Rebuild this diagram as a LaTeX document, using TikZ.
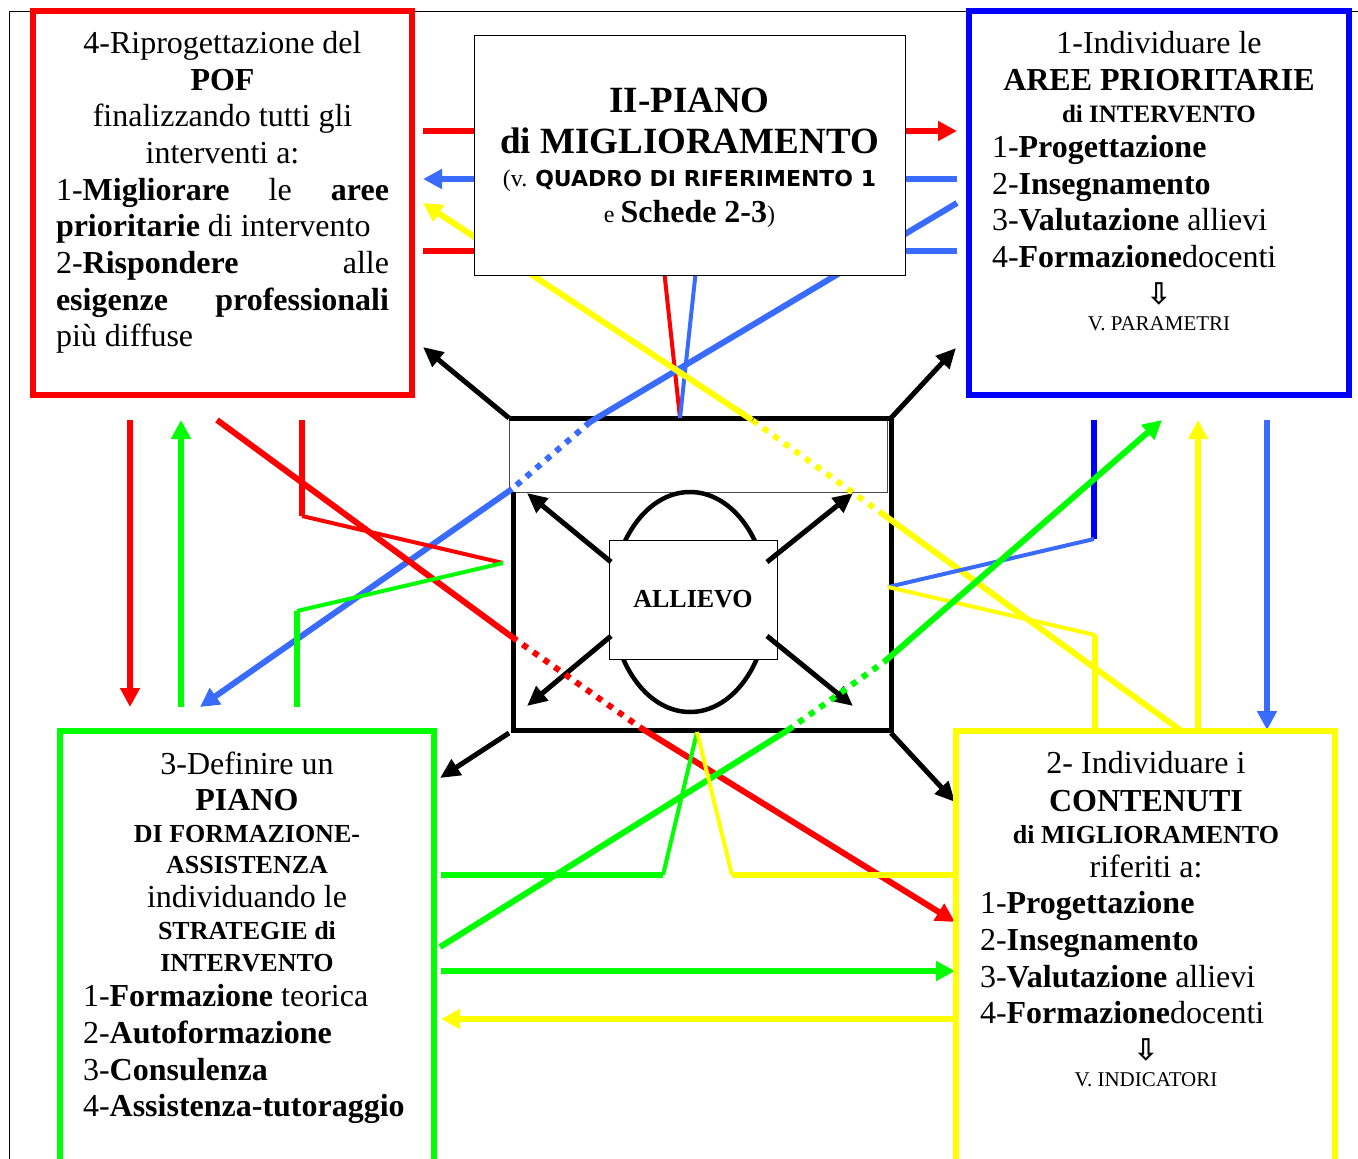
\documentclass[tikz,border=0pt]{standalone}
\usepackage{fontspec}
\setmainfont{Liberation Serif}
\newfontfamily\dvsans{DejaVu Sans}
\usetikzlibrary{arrows.meta}
\definecolor{cred}{RGB}{255,0,0}
\definecolor{cgrn}{RGB}{0,255,0}
\definecolor{cyel}{RGB}{255,255,0}
\definecolor{cblu}{RGB}{0,0,255}
\definecolor{clbl}{RGB}{58,107,255}
\newcommand\szA{\fontsize{32}{36.7}\selectfont\lineskiplimit=-100pt\relax}
\newcommand\szB{\fontsize{26}{36.7}\selectfont}
\newcommand\szC{\fontsize{21}{36.7}\selectfont}
\newcommand\szD{\fontsize{24}{36.7}\selectfont}
\newcommand\dnarr{{\dvsans\bfseries\fontsize{30}{36.7}\selectfont ⇩}}
\begin{document}
\begin{tikzpicture}[x=1pt,y=-1pt,
  box/.style={draw, line width=6pt, inner sep=0pt},
  txt/.style={inner sep=0pt, anchor=base, align=flush center, font=\szA},
  cline/.style={line width=6pt},
  tline/.style={line width=4pt},
  dline/.style={line width=6pt, dash pattern=on 6pt off 7pt},
  ctip/.style={-{Triangle[length=19pt,width=19pt]}},
  kline/.style={line width=5pt, -{Triangle[length=20pt,width=18pt]}},
]
\useasboundingbox (0,0) rectangle (1358,1159);
% thin page frame
\draw[line width=1pt] (9,1159) -- (9,11) -- (1358,11);

% ---------- central ALLIEVO frame ----------
\node[draw=black!70, line width=0.8pt, fill=white, minimum width=378pt, minimum height=74pt, inner sep=0pt] (band) at (698,455) {};
\draw[line width=5pt, line join=miter] (509,418) -- (891,418) -- (891,730) -- (513,730) -- (513,492);
\draw[line width=4.5pt] (690,602) ellipse [x radius=78pt, y radius=110pt];
\node[draw, line width=0.8pt, fill=white, minimum width=168pt, minimum height=119pt, inner sep=0pt, font=\szB\bfseries] (allievo) at (693,599.5) {ALLIEVO};

\coordinate (aNW) at (611,562); \coordinate (aNE) at (767,562);
\coordinate (aSW) at (611,636); \coordinate (aSE) at (767,636);
\coordinate (iNW) at (527,493); \coordinate (iNE) at (853,493);
\coordinate (iSW) at (527,706); \coordinate (iSE) at (853,706);
\draw[kline] (aNW) -- (iNW);
\draw[kline] (aNE) -- (iNE);
\draw[kline] (aSW) -- (iSW);
\draw[kline] (aSE) -- (iSE);

\coordinate (fTL) at (509,418); \coordinate (fTR) at (891,418);
\coordinate (fBL) at (509,733); \coordinate (fBR) at (891,733);
\coordinate (oTL) at (423,347); \coordinate (oTR) at (956,348);
\coordinate (oBL) at (440,778); \coordinate (oBR) at (955,802);
\draw[kline] (fTL) -- (oTL);
\draw[kline] (fTR) -- (oTR);
\draw[kline] (fBL) -- (oBL);
\draw[kline] (fBR) -- (oBR);

% ---------- coloured connectors ----------
% top band
\coordinate (rA) at (423,131); \coordinate (bA) at (957,131);
\draw[cline, cred, ctip] (rA) -- (bA);
\coordinate (bB) at (957,179); \coordinate (rB) at (423,179);
\draw[cline, clbl, ctip] (bB) -- (rB);
\coordinate (rC) at (423,251); \coordinate (rC1) at (662,251); \coordinate (fT) at (680,418);
\draw[cline, cred] (rC) -- (rC1);
\draw[tline, cred] (rC1) -- (fT);
\coordinate (bC) at (957,251); \coordinate (bC1) at (698,251);
\draw[cline, clbl] (bC) -- (bC1);
\draw[tline, clbl] (bC1) -- (fT);
% blue diagonal to green box
\coordinate (bD) at (957,203); \coordinate (bD1) at (590,422);
\coordinate (bD2) at (512,489); \coordinate (gA) at (200,707);
\draw[cline, clbl] (bD) -- (bD1);
\draw[dline, clbl] (bD1) -- (bD2);
\draw[cline, clbl, ctip] (bD2) -- (gA);
% yellow diagonal to red box
\coordinate (yA) at (1180,730); \coordinate (yA1) at (884,515);
\coordinate (yA2) at (752,420); \coordinate (rD) at (423,203);
\draw[cline, cyel] (yA) -- (yA1);
\draw[dline, cyel] (yA1) -- (yA2);
\draw[cline, cyel, ctip] (yA2) -- (rD);
% left side
\coordinate (rE) at (130,420); \coordinate (gB) at (130,707);
\draw[cline, cred, ctip] (rE) -- (gB);
\coordinate (gC) at (181,707); \coordinate (rF) at (181,420);
\draw[cline, cgrn, ctip] (gC) -- (rF);
\coordinate (rG) at (217,420); \coordinate (rG1) at (512,637);
\coordinate (rG2) at (641,728); \coordinate (yB) at (955,922);
\draw[cline, cred] (rG) -- (rG1);
\draw[dline, cred] (rG1) -- (rG2);
\draw[cline, cred, ctip] (rG2) -- (yB);
\coordinate (rH) at (302,420); \coordinate (rH1) at (302,516); \coordinate (fL) at (503,563);
\draw[cline, cred] (rH) -- (rH1);
\draw[tline, cred] (rH1) -- (fL);
\coordinate (gD) at (297,707); \coordinate (gD1) at (297,611);
\draw[cline, cgrn] (gD) -- (gD1);
\draw[tline, cgrn] (gD1) -- (fL);
% right side
\coordinate (bE) at (1094,420); \coordinate (bE1) at (1094,539); \coordinate (fR) at (888,587);
\draw[cline, cblu] (bE) -- (bE1);
\draw[tline, clbl] (bE1) -- (fR);
\coordinate (yC) at (1095,730); \coordinate (yC1) at (1095,635);
\draw[cline, cyel] (yC) -- (yC1);
\draw[tline, cyel] (yC1) -- (fR);
\coordinate (gE) at (440,947); \coordinate (gE1) at (788,730);
\coordinate (gE2) at (884,662); \coordinate (bF) at (1162,420);
\draw[cline, cgrn] (gE) -- (gE1);
\draw[dline, cgrn] (gE1) -- (gE2);
\draw[cline, cgrn, ctip] (gE2) -- (bF);
\coordinate (yD) at (1198,730); \coordinate (bG) at (1198,420);
\draw[cline, cyel, ctip] (yD) -- (bG);
\coordinate (bH) at (1267,420); \coordinate (yE) at (1267,730);
\draw[cline, clbl, ctip] (bH) -- (yE);
% bottom
\coordinate (gF) at (441,875); \coordinate (gF1) at (663,875); \coordinate (fB) at (697,732);
\draw[cline, cgrn] (gF) -- (gF1);
\draw[tline, cgrn] (gF1) -- (fB);
\coordinate (yF) at (956,875); \coordinate (yF1) at (732,875);
\draw[cline, cyel] (yF) -- (yF1);
\draw[tline, cyel] (yF1) -- (fB);
\coordinate (gG) at (441,971); \coordinate (yG) at (955,971);
\draw[cline, cgrn, ctip] (gG) -- (yG);
\coordinate (yH) at (955,1019); \coordinate (gH) at (441,1019);
\draw[cline, cyel, ctip] (yH) -- (gH);

% ---------- boxes ----------
\node[box, draw=cred, minimum width=379pt, minimum height=384pt] (rbox) at (222.5,203) {};
\node[box, draw=cblu, minimum width=380pt, minimum height=384pt] (bbox) at (1159,203) {};
\node[box, draw=cgrn, minimum width=374pt, minimum height=444pt] (gbox) at (247,953) {};
\node[box, draw=cyel, minimum width=379pt, minimum height=444pt] (ybox) at (1145.5,953) {};
\node[draw, line width=1pt, fill=white, minimum width=431pt, minimum height=240pt, inner sep=0pt] (piano) at (689.5,155) {};

% ---------- texts ----------
\node[txt, text width=333pt] (rtext) at (222.5,53.3) {%
4-Riprogettazione del\\
\textbf{POF}\\
finalizzando tutti gli\\
interventi a:\\
\makebox[333pt][s]{1-\textbf{Migliorare} le \textbf{aree}}\\
\makebox[333pt][l]{\textbf{prioritarie} di intervento}\\
\makebox[333pt][s]{2-\textbf{Rispondere} alle}\\
\makebox[333pt][s]{\textbf{esigenze} \textbf{professionali}}\\
\makebox[333pt][l]{più diffuse}};

\node[txt, text width=334pt] (btext) at (1159,53.3) {%
1-Individuare le\\
\textbf{AREE PRIORITARIE}\\[-4.3pt]
{\fontsize{25}{36.7}\selectfont\bfseries di INTERVENTO}\\[-1.7pt]
\makebox[334pt][l]{1-\textbf{Progettazione}}\\
\makebox[334pt][l]{2-\textbf{Insegnamento}}\\
\makebox[334pt][l]{3-\textbf{Valutazione} allievi}\\
\makebox[334pt][l]{4-\textbf{Formazione}docenti}\\
\dnarr\\[-10.2pt]
{\szC V. PARAMETRI}};

\node[txt, text width=328pt] (gtext) at (247,774) {%
3-Definire un\\
\textbf{PIANO}\\[-4.7pt]
{\szB\bfseries DI FORMAZIONE-}\\[-5.7pt]
{\szB\bfseries ASSISTENZA}\\[-2.7pt]
individuando le\\[-4.7pt]
{\szB\bfseries STRATEGIE di}\\[-4.7pt]
{\szB\bfseries INTERVENTO}\\[-1.7pt]
\makebox[328pt][l]{1-\textbf{Formazione} teorica}\\
\makebox[328pt][l]{2-\textbf{Autoformazione}}\\
\makebox[328pt][l]{3-\textbf{Consulenza}}\\
\makebox[328pt][l]{4-\textbf{Assistenza-tutoraggio}}};

\node[txt, text width=332pt] (ytext) at (1146,773) {%
2- Individuare i\\[1.3pt]
\textbf{CONTENUTI}\\[-4.7pt]
{\szB\bfseries di MIGLIORAMENTO}\\[-2.7pt]
riferiti a:\\
\makebox[332pt][l]{1-\textbf{Progettazione}}\\
\makebox[332pt][l]{2-\textbf{Insegnamento}}\\
\makebox[332pt][l]{3-\textbf{Valutazione} allievi}\\
\makebox[332pt][l]{4-\textbf{Formazione}docenti}\\
\dnarr\\[-10.7pt]
{\szC V. INDICATORI}};

\node[inner sep=0pt, anchor=base, align=flush center, text width=431pt,
      font={\fontsize{37}{41}\selectfont\bfseries\lineskiplimit=-100pt\relax}] (ptext) at (689.5,112) {%
II-PIANO\\
di MIGLIORAMENTO\\[-8pt]
{\mdseries\szD(v. }{\dvsans\bfseries\fontsize{22}{41}\selectfont QUADRO DI RIFERIMENTO 1}\\[-5pt]
{\mdseries\szD e }{\fontsize{32}{41}\selectfont Schede 2-3}{\mdseries\szD)}};
\end{tikzpicture}
\end{document}
